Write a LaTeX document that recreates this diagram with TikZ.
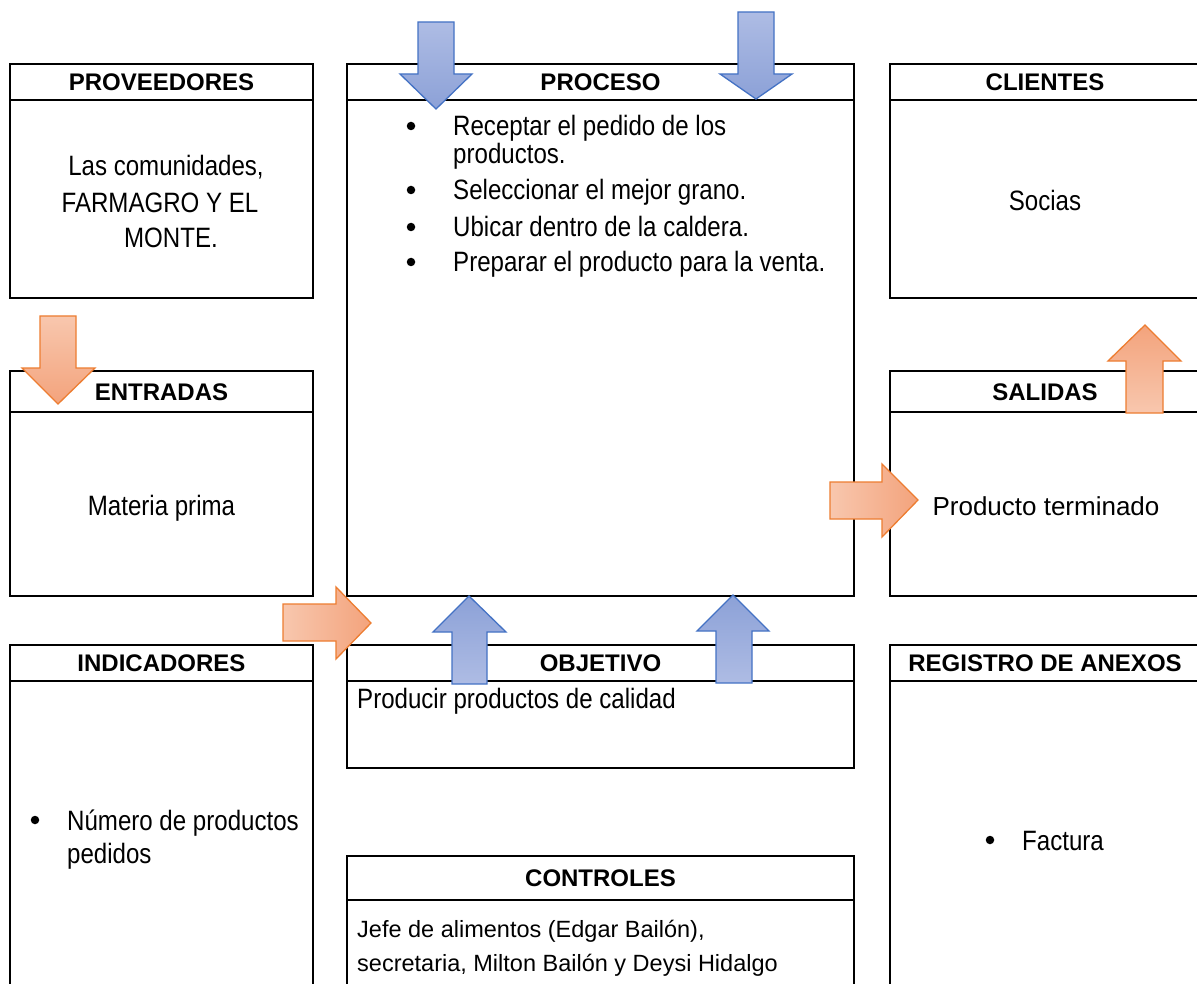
\documentclass[tikz,border=0pt]{standalone}
\usepackage{fontspec}
\setmainfont{Liberation Sans}
\newfontfamily\narrowfont[FakeStretch=0.86]{Liberation Sans}
\newcommand{\hfont}{\fontsize{24pt}{24pt}\selectfont\bfseries}
\newcommand{\nfont}{\narrowfont\fontsize{28pt}{28pt}\selectfont}
\newcommand{\rfont}{\fontsize{23.5pt}{34pt}\selectfont}
\newcommand{\pfont}{\fontsize{26pt}{30pt}\selectfont}
\definecolor{arrowblue}{HTML}{4472C4}
\definecolor{bluelight}{HTML}{AEBCE4}
\definecolor{bluedark}{HTML}{8CA1D7}
\definecolor{arroworange}{HTML}{ED7D31}
\definecolor{orangelight}{HTML}{F8C7AE}
\definecolor{orangedark}{HTML}{F3A37C}

\begin{document}
\begin{tikzpicture}[x=1pt,y=-1pt,
  frame/.style={draw=black, line width=2pt, rectangle, inner sep=0pt, outer sep=0pt},
  head/.style={frame, font=\hfont, text height=17pt, text depth=0pt},
  ctxt/.style={anchor=base, inner sep=0pt, font=\nfont},
  ltxt/.style={anchor=base west, inner sep=0pt, font=\nfont},
  dot/.style={circle, fill=black, inner sep=0pt, minimum size=8.5pt},
  blk/.style={line width=1.3pt, line join=miter},
  bluedown/.style={blk, draw=arrowblue, top color=bluelight, bottom color=bluedark},
  blueup/.style={blk, draw=arrowblue, top color=bluedark, bottom color=bluelight},
  orangedown/.style={blk, draw=arroworange, top color=orangelight, bottom color=orangedark},
  orangeup/.style={blk, draw=arroworange, top color=orangedark, bottom color=orangelight},
  orangeright/.style={blk, draw=arroworange, left color=orangelight, right color=orangedark}]

\useasboundingbox (0,0) rectangle (1197,984);
\clip (0,0) rectangle (1197,984);
\fill[white] (0,0) rectangle (1197,984);

% ---- left column ----
\node[head, minimum width=303pt, minimum height=36pt] (provh) at (161.5,82) {PROVEEDORES};
\node[frame, minimum width=303pt, minimum height=198pt] (prov) at (161.5,199) {};
\node[ctxt] (prov1) at (166,176) {Las comunidades,};
\node[ctxt] (prov2) at (160,213) {FARMAGRO Y EL};
\node[ctxt] (prov3) at (171,248) {MONTE.};

\node[head, minimum width=303pt, minimum height=41pt] (entrh) at (161.5,391.5) {ENTRADAS};
\node[frame, minimum width=303pt, minimum height=184pt] (entr) at (161.5,504) {};
\node[ctxt] (entr1) at (161.5,515) {Materia prima};

\node[head, minimum width=303pt, minimum height=36pt] (indih) at (161.5,663) {INDICADORES};
\node[frame, minimum width=303pt, minimum height=319pt] (indi) at (161.5,840.5) {};
\node[dot] (indib) at (35,820) {};
\node[ltxt] (indi1) at (67,830) {Número de productos};
\node[ltxt] (indi2) at (67,863) {pedidos};

% ---- middle column ----
\node[head, minimum width=507pt, minimum height=36pt] (proch) at (600.5,82) {PROCESO};
\node[frame, minimum width=507pt, minimum height=496pt] (proc) at (600.5,348) {};
\node[dot] (procb1) at (411,126) {};
\node[dot] (procb2) at (411,190) {};
\node[dot] (procb3) at (411,227) {};
\node[dot] (procb4) at (411,262) {};
\node[ltxt] (proc1) at (453,136) {Receptar el pedido de los};
\node[ltxt] (proc1b) at (453,164) {productos.};
\node[ltxt] (proc2) at (453,200) {Seleccionar el mejor grano.};
\node[ltxt] (proc3) at (453,237) {Ubicar dentro de la caldera.};
\node[ltxt] (proc4) at (453,272) {Preparar el producto para la venta.};

\node[head, minimum width=507pt, minimum height=36pt] (objeh) at (600.5,663) {OBJETIVO};
\node[frame, minimum width=507pt, minimum height=87pt] (obje) at (600.5,724.5) {};
\node[ltxt] (obje1) at (357,708) {Producir productos de calidad};

\node[head, minimum width=507pt, minimum height=44pt] (conth) at (600.5,878) {CONTROLES};
\node[frame, minimum width=507pt, minimum height=100pt] (cont) at (600.5,950) {};
\node[ltxt, font=\rfont] (cont1) at (357,937) {Jefe de alimentos (Edgar Bailón),};
\node[ltxt, font=\rfont] (cont2) at (357,971) {secretaria, Milton Bailón y Deysi Hidalgo};

% ---- right column ----
\node[head, minimum width=310pt, minimum height=36pt] (clieh) at (1045,82) {CLIENTES};
\node[frame, minimum width=310pt, minimum height=198pt] (clie) at (1045,199) {};
\node[ctxt] (clie1) at (1045,211) {Socias};

\node[head, minimum width=310pt, minimum height=41pt] (salih) at (1045,391.5) {SALIDAS};
\node[frame, minimum width=310pt, minimum height=184pt] (sali) at (1045,504) {};
\node[ctxt, font=\pfont] (sali1) at (1046,515) {Producto terminado};

\node[head, minimum width=310pt, minimum height=36pt] (regih) at (1045,663) {REGISTRO DE ANEXOS};
\node[frame, minimum width=310pt, minimum height=319pt] (regi) at (1045,840.5) {};
\node[dot] (regib) at (990,840) {};
\node[ltxt] (regi1) at (1022,850) {Factura};

% ---- block arrows ----
% mechanisms into the process (from above)
\shade[bluedown] (418,22) -- (454,22) -- (454,74) -- (472,74) -- (436,109) -- (400,74) -- (418,74) -- cycle;
\shade[bluedown] (738,12) -- (774,12) -- (774,74) -- (792,74) -- (756,99) -- (720,74) -- (738,74) -- cycle;
% objective feeding the process (from below)
\shade[blueup] (452,684) -- (487,684) -- (487,632) -- (506,632) -- (469,596) -- (433,632) -- (452,632) -- cycle;
\shade[blueup] (716,683) -- (752,683) -- (752,631) -- (769,631) -- (733,595) -- (697,631) -- (716,631) -- cycle;
% suppliers to inputs
\shade[orangedown] (40,316) -- (76,316) -- (76,368) -- (95,368) -- (58,404) -- (22,368) -- (40,368) -- cycle;
% inputs to process
\shade[orangeright] (283,604) -- (336,604) -- (336,587) -- (371,623) -- (336,659) -- (336,641) -- (283,641) -- cycle;
% process to outputs
\shade[orangeright] (830,482) -- (882,482) -- (882,464) -- (918,500) -- (882,537) -- (882,519) -- (830,519) -- cycle;
% outputs to clients
\shade[orangeup] (1126,413) -- (1163,413) -- (1163,361) -- (1181,361) -- (1145,325) -- (1108,361) -- (1126,361) -- cycle;
\end{tikzpicture}
\end{document}
